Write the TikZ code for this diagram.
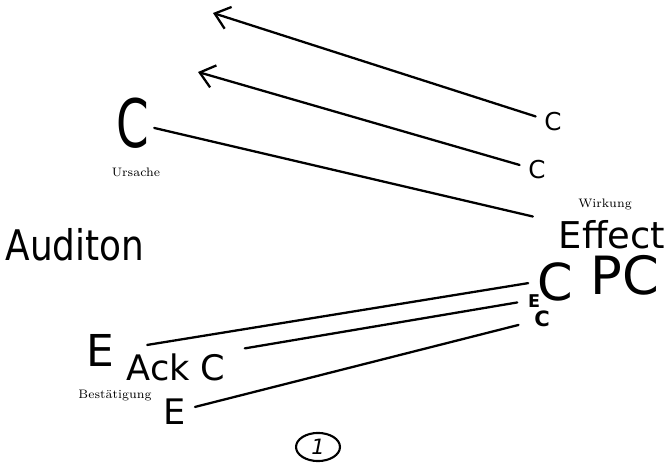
\documentclass[tikz,border=0pt]{standalone}
\usepackage{fontspec}
\newfontfamily\handfont{DejaVu Sans}
\usepackage{tikz}
\usetikzlibrary{arrows.meta,shapes.geometric}

\begin{document}
\begin{tikzpicture}[
    hand/.style={inner sep=1pt, font=\handfont\fontsize{#1}{#1}\selectfont},
    tag/.style={inner sep=1pt, font=\fontsize{7}{7}\selectfont},
    link/.style={line width=1.3pt, line cap=round},
    back/.style={link, -{Straight Barb[length=8pt, width=13pt]}},
]
\useasboundingbox (0,0) rectangle (13.4,9.44);

% Top: two C's sent back to the left
\node[hand=14] (cA) at (11.06,7.00) {C};
\node[hand=14] (cB) at (10.74,6.04) {C};
\coordinate (tipA) at (4.26,9.18);
\coordinate (tipB) at (3.96,8.00);
\draw[back, shorten <=4pt] (cA) -- (tipA);
\draw[back, shorten <=4pt] (cB) -- (tipB);

% Cause and effect
\node[hand=38, xscale=0.7] (cause) at (2.66,6.98) {C};
\node[tag] (ursache) at (2.72,6.00) {Ursache};
\node[hand=21] (effect) at (12.24,4.74) {Effect};
\node[tag] (wirkung) at (12.10,5.36) {Wirkung};
\node[hand=30] (pc) at (12.50,3.94) {PC};
\draw[link, shorten <=2pt, shorten >=14pt] (cause) -- (effect);

% Left side
\node[hand=24, xscale=0.85] (audit) at (1.50,4.54) {Auditon};

% Bottom: acknowledgements
\node[hand=29] (bigC) at (11.10,3.80) {C};
\node[hand=10, font=\handfont\bfseries\fontsize{10}{10}\selectfont] (sE) at (10.68,3.42) {E};
\node[hand=12, font=\handfont\bfseries\fontsize{12}{12}\selectfont] (sC) at (10.84,3.06) {C};
\node[hand=25] (bigE) at (2.00,2.44) {E};
\node[hand=20] (ack) at (3.52,2.10) {Ack C};
\node[tag] (bestaet) at (2.30,1.52) {Bestätigung};
\node[hand=20] (lowE) at (3.50,1.20) {E};
\draw[link, shorten <=18pt, shorten >=4pt] (bigE.east) -- (bigC.west);
\draw[link, shorten <=10pt, shorten >=5pt] (ack.north east) -- (sE.west);
\draw[link, shorten <=4pt, shorten >=8pt] (lowE) -- (sC);

% page number
\node[draw, ellipse, line width=1.2pt, minimum width=25pt, minimum height=16pt,
      inner sep=0pt, font=\handfont\fontsize{12}{12}\selectfont] (page) at (6.36,0.50) {\textit{1}};
\end{tikzpicture}
\end{document}
